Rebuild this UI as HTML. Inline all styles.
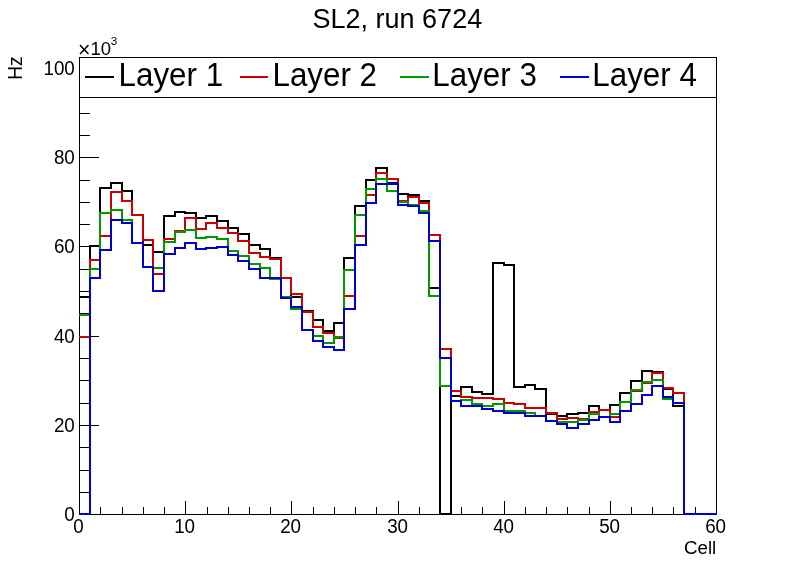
<!DOCTYPE html>
<html><head><meta charset="utf-8">
<style>
html,body{margin:0;padding:0;background:#fff;}
body{width:796px;height:572px;overflow:hidden;}
svg{display:block;font-family:"Liberation Sans",sans-serif;will-change:transform;}
</style></head><body>
<svg width="796" height="572" viewBox="0 0 796 572">
<rect x="0" y="0" width="796" height="572" fill="#fff"/>
<g fill="none" stroke="#000" stroke-width="1" shape-rendering="crispEdges">
<rect x="79.5" y="57.5" width="637" height="457"/>
<path d="M79 514.5 H99 M79 492.5 H90 M79 470.5 H90 M79 447.5 H90 M79 425.5 H99 M79 403.5 H90 M79 380.5 H90 M79 358.5 H90 M79 336.5 H99 M79 313.5 H90 M79 291.5 H90 M79 269.5 H90 M79 246.5 H99 M79 224.5 H90 M79 202.5 H90 M79 180.5 H90 M79 157.5 H99 M79 135.5 H90 M79 113.5 H90 M79 90.5 H90 M79 68.5 H99 M79.5 515 V501 M100.5 515 V507 M122.5 515 V507 M143.5 515 V507 M164.5 515 V507 M185.5 515 V501 M207.5 515 V507 M228.5 515 V507 M249.5 515 V507 M270.5 515 V507 M291.5 515 V501 M313.5 515 V507 M334.5 515 V507 M355.5 515 V507 M376.5 515 V507 M398.5 515 V501 M419.5 515 V507 M440.5 515 V507 M461.5 515 V507 M482.5 515 V507 M504.5 515 V501 M525.5 515 V507 M546.5 515 V507 M567.5 515 V507 M589.5 515 V507 M610.5 515 V501 M631.5 515 V507 M652.5 515 V507 M673.5 515 V507 M695.5 515 V507 M716.5 515 V501"/>
</g>
<g fill="none" stroke-linejoin="miter" stroke-linecap="butt" shape-rendering="crispEdges" stroke-width="2">
<path d="M79 297 H90 V246 H100 V188 H111 V183 H122 V191 H132 V215 H143 V245 H153 V252 H164 V216 H175 V212 H185 V213 H196 V218 H206 V216 H217 V221 H228 V228 H238 V234 H249 V245 H260 V249 H270 V258 H281 V278 H291 V297 H302 V311 H313 V320 H323 V331 H334 V323 H344 V258 H355 V206 H366 V180 H376 V168 H387 V183 H398 V194 H408 V195 H419 V201 H429 V288 H440 V514 H451 V396 H461 V387 H472 V392 H482 V394 H493 V263 H504 V265 H514 V387 H525 V385 H535 V389 H546 V414 H557 V416 H567 V414 H578 V413 H589 V406 H599 V410 H610 V405 H620 V393 H631 V381 H642 V371 H652 V372 H663 V389 H673 V406 H684 V514 H695 V514 H705 V514 H717" stroke="#000"/>
<path d="M79 337 H90 V260 H100 V236 H111 V192 H122 V201 H132 V215 H143 V240 H153 V274 H164 V239 H175 V231 H185 V218 H196 V229 H206 V223 H217 V228 H228 V233 H238 V241 H249 V253 H260 V257 H270 V259 H281 V278 H291 V294 H302 V312 H313 V327 H323 V333 H334 V338 H344 V296 H355 V236 H366 V195 H376 V173 H387 V179 H398 V201 H408 V197 H419 V203 H429 V235 H440 V349 H451 V391 H461 V397 H472 V398 H482 V398 H493 V399 H504 V403 H514 V404 H525 V408 H535 V408 H546 V413 H557 V419 H567 V418 H578 V419 H589 V412 H599 V410 H610 V417 H620 V402 H631 V391 H642 V383 H652 V373 H663 V388 H673 V393 H684 V514 H695 V514 H705 V514 H717" stroke="#cc0000"/>
<path d="M79 315 H90 V269 H100 V213 H111 V210 H122 V220 H132 V243 H143 V267 H153 V268 H164 V242 H175 V232 H185 V230 H196 V238 H206 V237 H217 V239 H228 V251 H238 V256 H249 V264 H260 V268 H270 V279 H281 V297 H291 V309 H302 V330 H313 V336 H323 V343 H334 V337 H344 V270 H355 V215 H366 V189 H376 V179 H387 V191 H398 V202 H408 V205 H419 V211 H429 V296 H440 V386 H451 V401 H461 V400 H472 V404 H482 V406 H493 V404 H504 V411 H514 V411 H525 V413 H535 V416 H546 V421 H557 V422 H567 V422 H578 V420 H589 V414 H599 V417 H610 V414 H620 V402 H631 V390 H642 V382 H652 V380 H663 V399 H673 V403 H684 V514 H695 V514 H705 V514 H717" stroke="#009900"/>
<path d="M79 514 H90 V278 H100 V250 H111 V220 H122 V223 H132 V243 H143 V267 H153 V291 H164 V254 H175 V248 H185 V243 H196 V249 H206 V248 H217 V247 H228 V255 H238 V261 H249 V269 H260 V278 H270 V278 H281 V298 H291 V307 H302 V330 H313 V341 H323 V347 H334 V350 H344 V309 H355 V245 H366 V203 H376 V184 H387 V184 H398 V205 H408 V206 H419 V213 H429 V241 H440 V358 H451 V401 H461 V406 H472 V406 H482 V409 H493 V411 H504 V413 H514 V413 H525 V416 H535 V416 H546 V421 H557 V424 H567 V428 H578 V424 H589 V420 H599 V417 H610 V422 H620 V411 H631 V404 H642 V395 H652 V386 H663 V397 H673 V403 H684 V514 H695 V514 H705 V514 H717" stroke="#0000cc"/>
</g>
<rect x="80" y="58" width="636" height="39" fill="#fff"/>
<line x1="79" y1="97.5" x2="717" y2="97.5" stroke="#000" stroke-width="1" shape-rendering="crispEdges"/>
<g stroke-width="2" shape-rendering="crispEdges">
<line x1="85" y1="77" x2="114" y2="77" stroke="#000"/>
<line x1="240" y1="77" x2="268" y2="77" stroke="#cc0000"/>
<line x1="400" y1="77" x2="429" y2="77" stroke="#009900"/>
<line x1="560" y1="77" x2="589" y2="77" stroke="#0000cc"/>
</g>
<g font-size="33" fill="#000">
<text transform="translate(118.6,86) scale(0.95,1)">Layer 1</text>
<text transform="translate(272.5,86) scale(0.95,1)">Layer 2</text>
<text transform="translate(432.3,86) scale(0.95,1)">Layer 3</text>
<text transform="translate(592.3,86) scale(0.95,1)">Layer 4</text>
</g>
<text transform="translate(312.45,27.93) scale(0.99,1)" font-size="27.3">SL2, run 6724</text>
<g font-size="19.3"><text transform="translate(74.8,520.9) scale(0.975,1)" text-anchor="end">0</text><text transform="translate(74.8,431.9) scale(0.975,1)" text-anchor="end">20</text><text transform="translate(74.8,342.9) scale(0.975,1)" text-anchor="end">40</text><text transform="translate(74.8,252.9) scale(0.975,1)" text-anchor="end">60</text><text transform="translate(74.8,163.9) scale(0.975,1)" text-anchor="end">80</text><text transform="translate(74.8,74.9) scale(0.975,1)" text-anchor="end">100</text></g>
<g font-size="19.3"><text transform="translate(78.6,532.8) scale(0.975,1)" text-anchor="middle">0</text><text transform="translate(184.6,532.8) scale(0.975,1)" text-anchor="middle">10</text><text transform="translate(290.6,532.8) scale(0.975,1)" text-anchor="middle">20</text><text transform="translate(397.6,532.8) scale(0.975,1)" text-anchor="middle">30</text><text transform="translate(503.6,532.8) scale(0.975,1)" text-anchor="middle">40</text><text transform="translate(609.6,532.8) scale(0.975,1)" text-anchor="middle">50</text><text transform="translate(715.6,532.8) scale(0.975,1)" text-anchor="middle">60</text></g>
<text transform="translate(684.06,553.6) scale(0.99,1)" font-size="18.9">Cell</text>
<text transform="translate(22,79.84) rotate(-90) scale(0.953,1)" font-size="20.2">Hz</text>
<text transform="translate(78.0,57.38) scale(0.95,1)" font-size="22.5">&#215;</text>
<text transform="translate(90.52,54.71) scale(0.965,1)" font-size="19.15">10</text>
<text transform="translate(110.72,44.98)" font-size="11.7">3</text>
</svg>
</body></html>
